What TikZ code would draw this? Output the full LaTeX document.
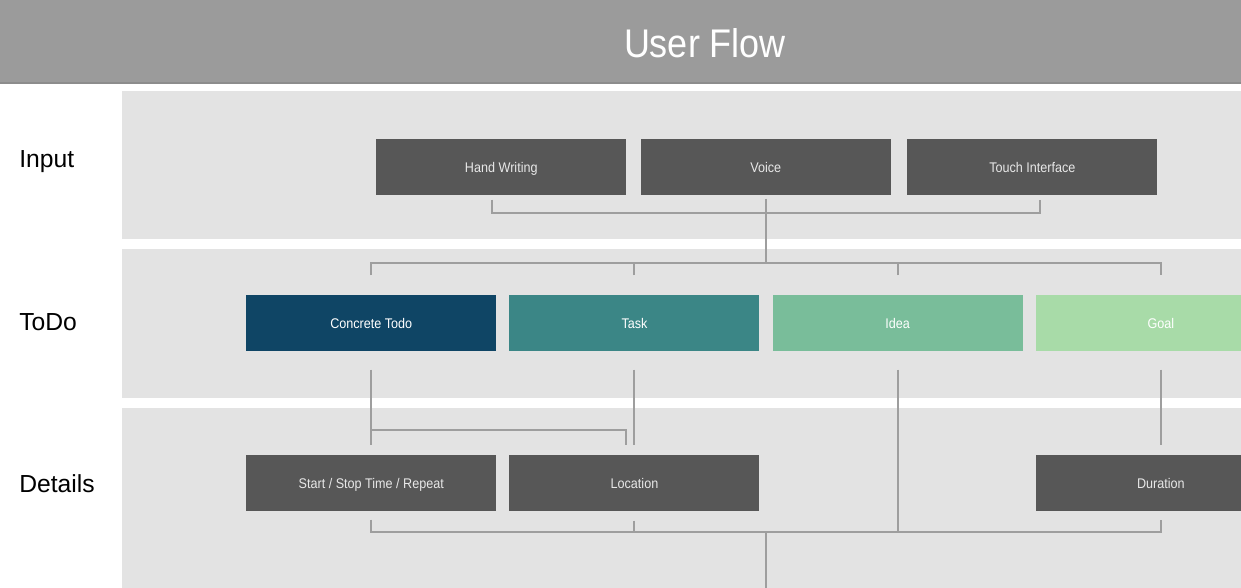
\documentclass[tikz,border=0pt]{standalone}
\usepackage{fontspec}
\setmainfont{Liberation Sans}
\newfontfamily\narrowfont[FakeStretch=0.9]{Liberation Sans}
\usetikzlibrary{positioning,calc}
\definecolor{barGrey}{HTML}{9B9B9B}
\definecolor{barEdge}{HTML}{8C8C8C}
\definecolor{panelGrey}{HTML}{E3E3E3}
\definecolor{boxGrey}{HTML}{575757}
\definecolor{boxText}{HTML}{E8E8E8}
\definecolor{lineGrey}{HTML}{9E9E9E}
\definecolor{todoBlue}{HTML}{0F4565}
\definecolor{todoTeal}{HTML}{3B8686}
\definecolor{todoSea}{HTML}{79BD9A}
\definecolor{todoMint}{HTML}{A8DBA8}

\begin{document}
\begin{tikzpicture}[x=0.75pt, y=-0.75pt, node distance=9.5pt,
  flowbox/.style={rectangle, minimum width=187.5pt, minimum height=42pt, inner sep=0pt,
    font=\narrowfont\fontsize{10.5}{12}\selectfont, text height=7.5pt, text depth=0pt},
  dbox/.style={flowbox, fill=boxGrey, text=boxText},
  tbox/.style={flowbox, text=white},
  rowlabel/.style={anchor=base west, inner sep=0pt, font=\fontsize{18.5}{20}\selectfont},
  link/.style={draw=lineGrey, line width=1.5pt}]
\clip (0,0) rectangle (1241,587);
\fill[white] (0,0) rectangle (1241,587);
\fill[barGrey] (0,0) rectangle (1241,83);
\draw[barEdge, line width=1.5pt] (0,83) -- (1241,83);
\fill[panelGrey] (122,91) rectangle (1290,239);
\fill[panelGrey] (122,249) rectangle (1290,398);
\fill[panelGrey] (122,408) rectangle (1290,600);
\node[anchor=base, inner sep=0pt, text=white, font=\narrowfont\fontsize{30}{32}\selectfont] (title) at (705,57) {User Flow};
\node[rowlabel] (lin) at (19,167) {Input};
\node[rowlabel] (ltodo) at (19,330) {ToDo};
\node[rowlabel] (ldet) at (19,492) {Details};

\node[dbox, anchor=north west] (hw) at (376,139) {Hand Writing};
\node[dbox, right=10.5pt of hw] (voice) {Voice};
\node[dbox, right=12pt of voice] (touch) {Touch Interface};

\node[tbox, fill=todoBlue, anchor=north west] (concrete) at (246,295) {Concrete Todo};
\node[tbox, fill=todoTeal, right=of concrete] (task) {Task};
\node[tbox, fill=todoSea, right=of task] (idea) {Idea};
\node[tbox, fill=todoMint, right=of idea] (goal) {Goal};

\node[dbox, anchor=north west] (start) at (246,455) {Start / Stop Time / Repeat};
\node[dbox] (location) at (task |- start) {Location};
\node[dbox] (duration) at (goal |- start) {Duration};

\draw[link] ($(hw.south)+(-9,4)$) -- ($(hw.south)+(-9,17)$) -| ($(touch.south)+(8,4)$);
\draw[link] ($(voice.south)+(0,3)$) -- ($(voice.south)+(0,68)$);
\draw[link] ($(concrete.north)+(0,-20)$) -- ($(concrete.north)+(0,-32)$) -| ($(goal.north)+(0,-20)$);
\draw[link] ($(task.north)+(0,-20)$) -- ($(task.north)+(0,-32)$);
\draw[link] ($(idea.north)+(0,-20)$) -- ($(idea.north)+(0,-32)$);

\draw[link] ($(concrete.south)+(0,18)$) -- ($(concrete.south)+(0,93)$);
\draw[link] ($(concrete.south)+(0,78)$) -| ($(task.south)+(-8,93)$);
\draw[link] ($(task.south)+(0,18)$) -- ($(task.south)+(0,93)$);
\draw[link] ($(goal.south)+(0,18)$) -- ($(goal.south)+(0,93)$);

\coordinate (out) at ($(voice.south |- start.south)+(0,20)$);
\draw[link] ($(start.south)+(0,8)$) -- ($(start.south)+(0,20)$) -| ($(duration.south)+(0,8)$);
\draw[link] ($(location.south)+(0,9)$) -- ($(location.south)+(0,20)$);
\draw[link] ($(idea.south)+(0,18)$) -- (idea.south |- out);
\draw[link] (out) -- ++(0,70);
\end{tikzpicture}
\end{document}
